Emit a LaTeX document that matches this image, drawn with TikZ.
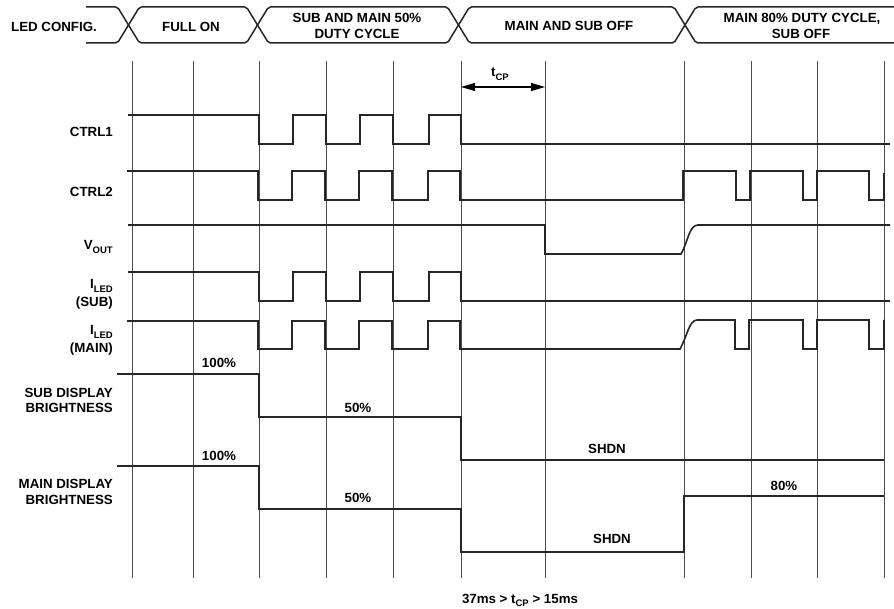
\documentclass[tikz,border=0pt]{standalone}
\usepackage{fontspec}
\setmainfont{Liberation Sans}
\usetikzlibrary{arrows.meta}
\newcommand\sbx[1]{\raisebox{-0.25em}{\fontsize{9.5pt}{9.5pt}\selectfont #1}}
\begin{document}
\begin{tikzpicture}[x=1pt,y=-1pt,
  lbl/.style={font=\fontsize{13.3pt}{16pt}\selectfont\bfseries, inner sep=0pt},
  lr/.style={lbl, anchor=base east},
  lc/.style={lbl, anchor=base},
  wave/.style={line width=1.6pt, black!85, line join=miter},
  gridln/.style={line width=0.9pt, black!70},
  hdr/.style={line width=1.5pt, black!85, rounded corners=2pt},
  tcparrow/.style={line width=1.1pt, black, {Triangle[length=14pt,width=8pt]}-{Triangle[length=14pt,width=8pt]}}]
\useasboundingbox (0,0) rectangle (894,609);
\fill[white] (0,0) rectangle (894,609);

% header band (two rails crossing at each boundary)
\draw[hdr] (86,7) -- (117.5,7) -- (139.5,43) -- (246.5,43) -- (268.5,7) -- (447.5,7) -- (469.5,43) -- (674,43) -- (696,7) -- (900,7);
\draw[hdr] (86,43) -- (117.5,43) -- (139.5,7) -- (246.5,7) -- (268.5,43) -- (447.5,43) -- (469.5,7) -- (674,7) -- (696,43) -- (900,43);

\node[lc] (h0) at (54,32) {LED CONFIG.};
\node[lc] (h1) at (191,32) {FULL ON};
\node[lc] (h2a) at (357,23) {SUB AND MAIN 50\%};
\node[lc] (h2b) at (357,39) {DUTY CYCLE};
\node[lc] (h3) at (569,31) {MAIN AND SUB OFF};
\node[lc] (h4a) at (802,23) {MAIN 80\% DUTY CYCLE,};
\node[lc] (h4b) at (801,39) {SUB OFF};

% grid
\foreach \gx in {132,193,259,326,393,461,545,684,751,817,884}
  \draw[gridln] (\gx,61) -- (\gx,578);

% t_CP
\coordinate (ta) at (461,87);
\coordinate (tb) at (545,87);
\draw[tcparrow] (ta) -- (tb);
\node[lc] (tcp) at (500,77) {t\sbx{CP}};

% left labels
\node[lr] (l1) at (113,137) {CTRL1};
\node[lr] (l2) at (113,197) {CTRL2};
\node[lr] (l3) at (113,250) {V\sbx{OUT}};
\node[lr] (l4a) at (113,289) {I\sbx{LED}};
\node[lr] (l4b) at (113,307) {(SUB)};
\node[lr] (l5a) at (113,335) {I\sbx{LED}};
\node[lr] (l5b) at (113,353) {(MAIN)};
\node[lr] (l6a) at (113,397) {SUB DISPLAY};
\node[lr] (l6b) at (113,413) {BRIGHTNESS};
\node[lr] (l7a) at (113,488) {MAIN DISPLAY};
\node[lr] (l7b) at (113,504) {BRIGHTNESS};

% waveforms
\draw[wave] (128,115) -| (259,144) -| (293,115) -| (326,144) -| (360,115) -| (393,144) -| (429,115) -| (461,144) -- (890,144);
\draw[wave] (127,171) -| (258,200) -| (292,171) -| (325,200) -| (359,171) -| (392,200) -| (428,171) -| (460,200) -| (683,171) -| (736,200) -| (750,171) -| (803,200) -| (817,171) -| (869,200) -| (884,173);
\draw[wave] (128,225) -- (545,225) -- (545,254) -- (681,254) .. controls (688,242) and (689,225) .. (698,225) -- (890,225);
\draw[wave] (128,272) -| (259,301) -| (293,272) -| (326,301) -| (360,272) -| (393,301) -| (429,272) -| (461,301) -- (890,301);
\draw[wave] (127,321) -| (258,349) -| (292,321) -| (325,349) -| (359,321) -| (392,349) -| (428,321) -| (460,349) -- (680,349) .. controls (687,337) and (689,320) .. (697,320) -| (735,349) -| (749,320) -| (803,349) -| (817,320) -| (869,349) -| (884,320);
\draw[wave] (117,374) -| (259,417) -| (461,460) -- (884,460);
\draw[wave] (117,466) -| (259,509) -| (461,552) -| (684,496) -- (884,496);

% level labels
\node[lc] (p1) at (219,368) {100\%};
\node[lc] (p2) at (219,460) {100\%};
\node[lc] (p3) at (358,412) {50\%};
\node[lc] (p4) at (358,502) {50\%};
\node[lc] (p5) at (607,453) {SHDN};
\node[lc] (p6) at (612,543) {SHDN};
\node[lc] (p7) at (784,490) {80\%};

\node[lc] (bt) at (520,603) {37ms > t\sbx{CP} > 15ms};
\end{tikzpicture}
\end{document}
